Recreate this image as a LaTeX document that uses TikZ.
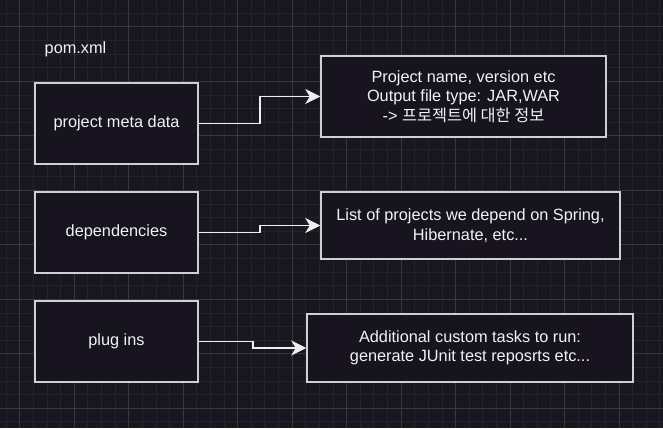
\documentclass[tikz,border=0pt]{standalone}
\usepackage{fontspec}
\setmainfont{Liberation Sans}
\newfontfamily\krfont{Noto Sans CJK KR}
\usetikzlibrary{arrows.meta}
\definecolor{bgcol}{HTML}{18161E}
\definecolor{minorcol}{HTML}{24222A}
\definecolor{majorcol}{HTML}{38373D}
\definecolor{boxfill}{HTML}{18141F}
\definecolor{boxline}{HTML}{CFCFCF}
\definecolor{linkcol}{HTML}{EEEEEE}
\definecolor{txtcol}{HTML}{F2F2F2}
\tikzset{
  minorline/.style={draw=minorcol, line width=1pt},
  majorline/.style={draw=majorcol, line width=1pt},
  box/.style={draw=boxline, fill=boxfill, line width=1.5pt, rectangle, inner sep=0pt,
    text=txtcol, align=center, font=\fontsize{16.3}{19.5}\selectfont},
  link/.style={draw=linkcol, line width=1.5pt,
    -{Stealth[length=15pt, width=15pt, inset=4.5pt, fill=linkcol]}},
  label/.style={text=txtcol, inner sep=0pt, font=\fontsize{16.3}{19.5}\selectfont}
}
\begin{document}
\begin{tikzpicture}[x=1pt, y=-1pt]
  \useasboundingbox (0,0) rectangle (663,428);
  \fill[bgcol] (0,0) rectangle (663,428);
  % minor grid
  \foreach \i in {-2,...,48} {
    \draw[minorline] ({19.8+13.62*\i},0) -- ({19.8+13.62*\i},428);
  }
  \foreach \j in {-2,...,30} {
    \draw[minorline] (0,{27+13.62*\j}) -- (663,{27+13.62*\j});
  }
  % major grid
  \foreach \i in {-1,...,12} {
    \draw[majorline] ({19.8+54.48*\i},0) -- ({19.8+54.48*\i},428);
  }
  \foreach \j in {-1,...,8} {
    \draw[majorline] (0,{27+54.48*\j}) -- (663,{27+54.48*\j});
  }
  % title
  \node[label] (pom) at (75.5,49) {pom.xml};
  % boxes
  \node[box, minimum width=163pt, minimum height=81pt] (meta) at (116.5,123.5) {project meta data};
  \node[box, minimum width=285pt, minimum height=81pt] (metainfo) at (463.5,96.5)
    {Project name, version etc\\Output file type: JAR,WAR\\-> {\krfont 프로젝트에 대한 정보}};
  \node[box, minimum width=163pt, minimum height=81pt] (deps) at (116.5,232.5) {dependencies};
  \node[box, minimum width=299pt, minimum height=67pt] (depsinfo) at (470.5,225.5)
    {List of projects we depend on Spring,\\Hibernate, etc...};
  \node[box, minimum width=163pt, minimum height=81pt] (plug) at (116.5,341.5) {plug ins};
  \node[box, minimum width=326pt, minimum height=68pt] (pluginfo) at (470,348)
    {Additional custom tasks to run:\\generate JUnit test reposrts etc...};
  % connectors
  \draw[link] (meta.east) -- ++(61,0) |- (metainfo.west);
  \draw[link] (deps.east) -- ++(61,0) |- (depsinfo.west);
  \draw[link] (plug.east) -- ++(54,0) |- (pluginfo.west);
\end{tikzpicture}
\end{document}
